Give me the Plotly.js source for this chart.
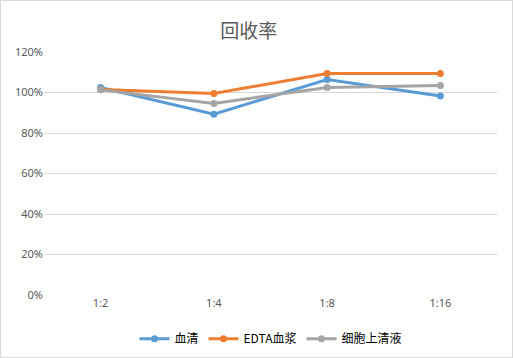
<!DOCTYPE html>
<html><head><meta charset="utf-8">
<script src="https://cdn.plot.ly/plotly-3.0.1.min.js"></script>
<style>html,body{margin:0;padding:0;background:#fff}#c{width:513px;height:358px;box-sizing:border-box;border:1px solid #d9d9d9}</style>
</head><body><div id="c"></div>
<script>
const categories = ['1:2','1:4','1:8','1:16'];
const serum = [1.025, 0.893, 1.064, 0.983];
const edta = [1.015, 0.995, 1.094, 1.094];
const cell = [1.013, 0.946, 1.025, 1.035];
const names = ['血清','EDTA血浆','细胞上清液'];
const colors = ['#5b9bd5','#ed7d31','#a5a5a5'];
const series = [serum, edta, cell];
const data = series.map((v,i)=>({
  x: categories, y: v, name: names[i], type:'scatter', mode:'lines+markers',
  line:{color:colors[i], width:3}, marker:{color:colors[i], size:7}
}));
const layout = {
  width:511, height:356,
  margin:{l:43, r:15, t:51, b:62, autoexpand:false},
  paper_bgcolor:'#fff', plot_bgcolor:'#fff',
  font:{family:'"Noto Sans", "Liberation Sans", "Noto Sans CJK SC", sans-serif', size:11, color:'#595959'},
  title:{text:'回收率', x:0.485, xanchor:'center', y:0.915, yanchor:'middle',
    font:{family:'"Noto Sans CJK SC", sans-serif', size:19, color:'#595959'}},
  xaxis:{type:'category', range:[-0.5,3.5], showgrid:false, zeroline:false, showline:false, ticks:'', tickfont:{size:11}, fixedrange:true},
  yaxis:{range:[0,1.2], dtick:0.2, tickformat:'.0%', gridcolor:'#d9d9d9', gridwidth:1, zeroline:false, showline:false, ticks:'', tickfont:{size:11}, fixedrange:true},
  showlegend:true,
  legend:{orientation:'h', x:0.5, xanchor:'center', y:-0.12, yanchor:'top',
    font:{family:'"Noto Sans CJK SC", sans-serif', size:12, color:'#000'}, itemwidth:30, tracegroupgap:0}
};
Plotly.newPlot('c', data, layout, {displayModeBar:false, staticPlot:true});
</script></body></html>
